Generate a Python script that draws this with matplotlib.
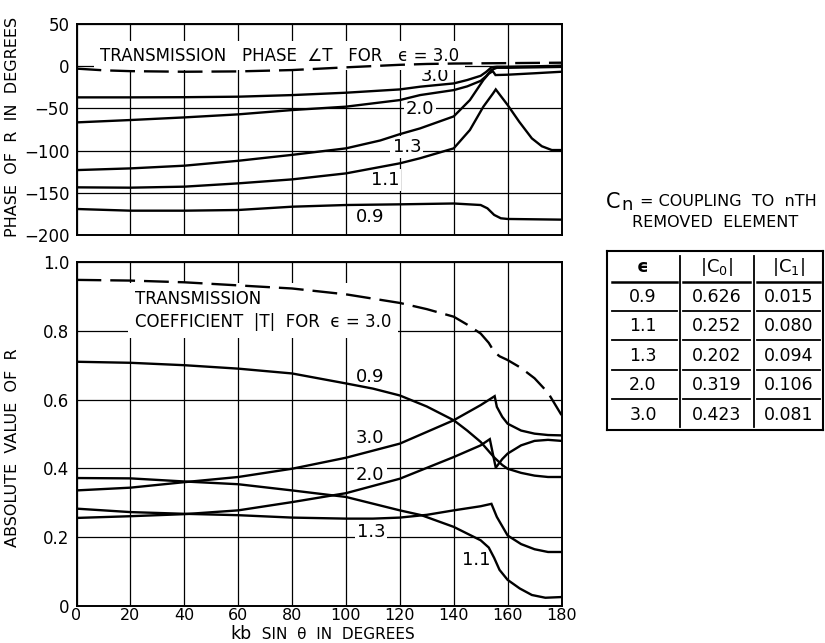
import matplotlib
matplotlib.use("Agg")
import matplotlib.pyplot as plt
from matplotlib.lines import Line2D

plt.rcParams['font.family'] = ['DejaVu Sans']

# ---------------- data: phase of R (degrees) ----------------
phase_x_T = [0, 10, 20, 40, 60, 80, 100, 110, 120, 130, 140, 160, 180]
phase_T = [-3, -5, -6, -6.7, -6.3, -4.7, -1.5, 0, 1.5, 2.5, 3, 3.5, 4]

phase_x_30 = [0, 20, 40, 60, 80, 100, 120, 127.5, 140, 145, 150, 152, 154, 156, 160, 170, 180]
phase_30 = [-37, -37, -36.8, -36.2, -34.3, -31.5, -27.6, -24.4, -20.5, -16.5, -11.5, -7, -1.5, -0.8, -0.8, -0.3, 0.5]

phase_x_20 = [0, 20, 40, 60, 80, 100, 120, 127.5, 140, 145, 150, 152, 154, 156, 160, 170, 180]
phase_20 = [-66.6, -63.8, -60.7, -57.1, -52, -48, -40.2, -34.3, -28.4, -24, -17.5, -12, -4.5, -2, -2, -1.5, -1]

phase_x_13 = [0, 20, 40, 60, 80, 100, 112.7, 120, 127.5, 140, 146, 151, 153, 154.5, 155.5, 160, 170, 180]
phase_13 = [-123, -121, -117.8, -112, -105, -97.3, -88, -80.5, -73.7, -59.5, -40.2, -16.5, -9, -6, -10.6, -10.2, -8.5, -6.7]

phase_x_11 = [0, 20, 40, 60, 80, 100, 120, 127.5, 140, 146, 151, 154.6, 155.6, 160, 164.3, 169, 172.7, 176.4, 180]
phase_11 = [-143.4, -143.8, -142.6, -138.7, -134, -126.9, -115, -109, -97.3, -75.6, -48, -32.3, -27.6, -46, -65.8, -85.5, -94.8, -99.3, -99.3]

phase_x_09 = [0, 20, 40, 60, 80, 100, 120, 140, 150, 152.5, 155, 157.5, 160, 180]
phase_09 = [-169, -171, -171, -170.2, -166.3, -164.3, -163.5, -162.5, -164.3, -168.2, -176, -180, -180.8, -181.6]

# ---------------- data: absolute value of R ----------------
abs_x_T = [0, 20, 40, 60, 80, 100, 120, 130, 140, 145, 150, 153, 155, 157, 160, 165, 170, 175, 180]
abs_T = [0.948, 0.946, 0.941, 0.932, 0.923, 0.906, 0.881, 0.863, 0.841, 0.818, 0.792, 0.765, 0.739, 0.726, 0.715, 0.692, 0.662, 0.620, 0.555]

abs_x_09 = [0, 20, 40, 60, 80, 100, 110, 120, 130, 140, 145, 150, 155, 158, 160, 165, 170, 175, 180]
abs_09 = [0.710, 0.707, 0.700, 0.690, 0.676, 0.647, 0.632, 0.612, 0.580, 0.540, 0.510, 0.477, 0.432, 0.410, 0.399, 0.387, 0.379, 0.375, 0.375]

abs_x_30 = [0, 20, 40, 60, 80, 100, 120, 140, 150, 155.2, 156, 158, 160, 165, 170, 175, 180]
abs_30 = [0.336, 0.344, 0.360, 0.375, 0.399, 0.431, 0.472, 0.540, 0.584, 0.610, 0.579, 0.550, 0.530, 0.510, 0.501, 0.497, 0.496]

abs_x_20 = [0, 20, 40, 60, 80, 100, 120, 140, 150, 153.4, 155.6, 158, 160, 165, 170, 175, 180]
abs_20 = [0.256, 0.261, 0.267, 0.278, 0.302, 0.328, 0.370, 0.433, 0.467, 0.485, 0.402, 0.427, 0.443, 0.467, 0.480, 0.483, 0.480]

abs_x_13 = [0, 20, 40, 60, 80, 100, 110, 120, 130, 140, 150, 154, 156, 160, 165, 170, 175, 180]
abs_13 = [0.283, 0.273, 0.268, 0.264, 0.257, 0.254, 0.254, 0.257, 0.265, 0.278, 0.290, 0.297, 0.259, 0.205, 0.180, 0.165, 0.157, 0.157]

abs_x_11 = [0, 20, 40, 60, 80, 100, 120, 128, 140, 150, 153, 155, 157, 160, 164.5, 169, 174, 180]
abs_11 = [0.372, 0.371, 0.362, 0.354, 0.336, 0.317, 0.278, 0.264, 0.230, 0.191, 0.170, 0.140, 0.105, 0.076, 0.051, 0.032, 0.024, 0.026]

# curve labels (text, x, y)
phase_labels = [("3.0", 133, -11.5), ("2.0", 127.5, -50.8), ("1.3", 122.6, -95.4),
                ("1.1", 114.5, -134.8), ("0.9", 109, -178)]
abs_labels = [("0.9", 108.9, 0.666), ("3.0", 108.8, 0.489), ("2.0", 109, 0.380),
              ("1.3", 109.3, 0.215), ("1.1", 148.5, 0.133)]

x_ticks = [0, 20, 40, 60, 80, 100, 120, 140, 160, 180]
phase_ticks = [50, 0, -50, -100, -150, -200]
abs_ticks = [0, 0.2, 0.4, 0.6, 0.8, 1.0]
abs_ticklabels = ["0", "0.2", "0.4", "0.6", "0.8", "1.0"]

# table
table_header = ["ϵ", "|C$_0$|", "|C$_1$|"]
table_eps = ["0.9", "1.1", "1.3", "2.0", "3.0"]
table_c0 = ["0.626", "0.252", "0.202", "0.319", "0.423"]
table_c1 = ["0.015", "0.080", "0.094", "0.106", "0.081"]

# ---------------- figure ----------------
W, H = 825, 643
fig = plt.figure(figsize=(W / 100, H / 100), dpi=100)
fig.patch.set_facecolor("white")


def fx(px):
    return px / W


def fy(py):
    return 1 - py / H


LW = 1.7
GRID_LW = 0.9
TICK_FS = 12
box = dict(facecolor="white", edgecolor="none", pad=1.5)

ax1 = fig.add_axes([fx(76.5), fy(235.2), fx(561.5) - fx(76.5), fy(23.8) - fy(235.2)])
ax2 = fig.add_axes([fx(76.5), fy(606), fx(561.5) - fx(76.5), fy(262) - fy(606)])

for ax in (ax1, ax2):
    ax.set_xlim(0, 180)
    ax.set_xticks(x_ticks)
    ax.grid(True, color="black", linewidth=GRID_LW)
    ax.set_axisbelow(True)
    ax.tick_params(length=0, labelsize=TICK_FS, pad=5)
    for s in ax.spines.values():
        s.set_linewidth(1.4)
        s.set_color("black")

# top: phase
ax1.set_ylim(-200, 50)
ax1.set_yticks(phase_ticks)
ax1.tick_params(labelbottom=False)
dash = (10.5, 3.8)
ax1.plot(phase_x_T, phase_T, color="black", lw=LW, dashes=dash, zorder=4)
for xs, ys in [(phase_x_30, phase_30), (phase_x_20, phase_20), (phase_x_13, phase_13),
               (phase_x_11, phase_11), (phase_x_09, phase_09)]:
    ax1.plot(xs, ys, color="black", lw=LW, zorder=4, solid_joinstyle="miter")
for t, x, y in phase_labels:
    ax1.text(x, y, t, fontsize=13, ha="center", va="center", bbox=box, zorder=3)
ax1.text(8.7, 12.2, "TRANSMISSION   PHASE  ∠T   FOR   ϵ = 3.0", fontsize=12,
         ha="left", va="center", bbox=dict(facecolor="white", edgecolor="none", pad=4), zorder=3)

# bottom: absolute value
ax2.set_ylim(0, 1.0)
ax2.set_yticks(abs_ticks)
ax2.set_yticklabels(abs_ticklabels)
ax2.tick_params(axis="x", pad=1.5, labelsize=11.5)
ax2.plot(abs_x_T, abs_T, color="black", lw=LW, dashes=dash, zorder=4)
for xs, ys in [(abs_x_09, abs_09), (abs_x_30, abs_30), (abs_x_20, abs_20),
               (abs_x_13, abs_13), (abs_x_11, abs_11)]:
    ax2.plot(xs, ys, color="black", lw=LW, zorder=4, solid_joinstyle="miter")
for t, x, y in abs_labels:
    ax2.text(x, y, t, fontsize=13, ha="center", va="center", bbox=box, zorder=3)
ax2.text(21.7, 0.859, "TRANSMISSION\nCOEFFICIENT  |T|  FOR  ϵ = 3.0", fontsize=12,
         ha="left", va="center", linespacing=1.3,
         bbox=dict(facecolor="white", edgecolor="none", pad=5), zorder=3)

# axis labels
fig.text(fx(13), fy(127), "PHASE  OF  R  IN  DEGREES", rotation=90, fontsize=11.5,
         ha="center", va="center")
fig.text(fx(13), fy(448), "ABSOLUTE  VALUE  OF  R", rotation=90, fontsize=11.5,
         ha="center", va="center")
fig.text(fx(252), fy(639), "kb", fontsize=12.5, ha="right", va="baseline")
fig.text(fx(252), fy(639), "  SIN  θ  IN  DEGREES", fontsize=11, ha="left", va="baseline")

# caption
fig.text(fx(620), fy(202), "C", fontsize=15, ha="right", va="center")
fig.text(fx(621), fy(205), "n", fontsize=13, ha="left", va="center")
fig.text(fx(640), fy(202), "= COUPLING  TO  nTH", fontsize=11.5, ha="left", va="center")
fig.text(fx(715), fy(223), "REMOVED  ELEMENT", fontsize=11.5, ha="center", va="center")


# table frame
def fline(x0, y0, x1, y1, lw=1.3):
    fig.add_artist(Line2D([fx(x0), fx(x1)], [fy(y0), fy(y1)], color="black", lw=lw,
                          transform=fig.transFigure))


tl, tr, tt, tb = 606.7, 823.0, 250.7, 430.0
fline(tl, tt, tr, tt, 1.5)
fline(tl, tb, tr, tb, 1.5)
fline(tl, tt, tl, tb, 1.5)
fline(tr, tt, tr, tb, 1.5)
col_sep = [680, 754]
for cx in col_sep:
    fline(cx, tt + 5, cx, tb - 3, 1.3)
row_sep = [281.7, 311, 340, 370, 399]
seg = [(611.7, 676.7), (683.3, 750), (757.3, 820)]
for i, ry in enumerate(row_sep):
    for a, b in seg:
        fline(a, ry, b, ry, 1.8 if i == 0 else 1.3)

col_cx = [643, 717, 789]
row_cy = [296.7, 326, 356, 385, 415]
fig.text(fx(col_cx[0]), fy(266.7), table_header[0], fontsize=13, fontweight="bold",
         ha="center", va="center")
fig.text(fx(col_cx[1]), fy(266.7), table_header[1], fontsize=13, ha="center", va="center")
fig.text(fx(col_cx[2]), fy(266.7), table_header[2], fontsize=13, ha="center", va="center")
for i in range(len(table_eps)):
    fig.text(fx(col_cx[0]), fy(row_cy[i]), table_eps[i], fontsize=12.5, ha="center", va="center")
    fig.text(fx(col_cx[1]), fy(row_cy[i]), table_c0[i], fontsize=12.5, ha="center", va="center")
    fig.text(fx(col_cx[2]), fy(row_cy[i]), table_c1[i], fontsize=12.5, ha="center", va="center")

fig.savefig("out.png", dpi=100, facecolor="white")
